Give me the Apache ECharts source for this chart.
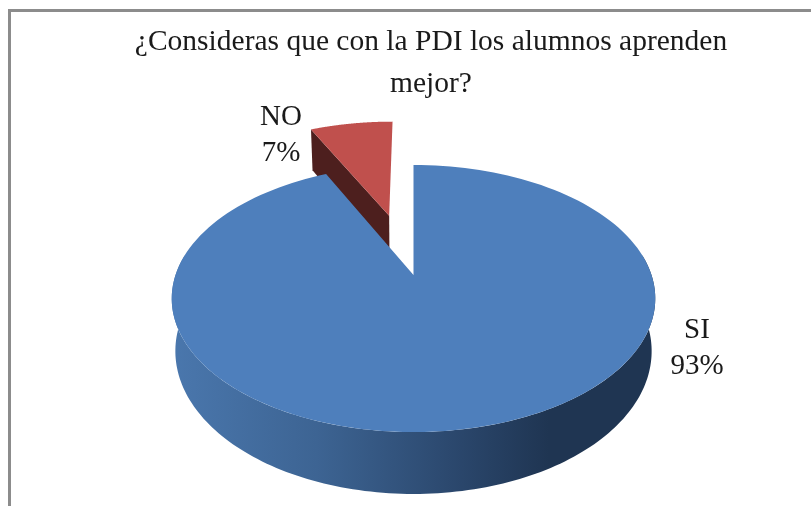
<!DOCTYPE html>
<html><head><meta charset="utf-8">
<style>html,body{margin:0;padding:0;background:#fff}#c{width:811px;height:506px}</style>
<script src="https://cdn.jsdelivr.net/npm/echarts@6/dist/echarts.min.js"></script>
</head><body><div id="c"></div>
<script>
const titleText = '¿Consideras que con la PDI los alumnos aprenden\nmejor?';
const categories = ['NO', 'SI'];
const values = [7, 93];
const explodedCategories = ['NO'];
const topColors = ['#c0504d', '#4e7fbc'];

const total = values.reduce((a, b) => a + b, 0);
// Perspective projection of the pie's unit circle onto the page
const P = {x: 413.5, y: 275, a: -81, c: 0.176, d: 238, depth: 51, shrink: 0.985, explode: 0.51};
function proj(u, v, lower) {
  const w = 1 + P.c * v;
  const x = P.d * u / w, y = (P.a * v + P.y) / w;
  if (lower) return [P.x + x * P.shrink, y + P.depth / w];
  return [P.x + x, y];
}
function arc(t0, t1, ox, oy, lower) {
  const n = 160, pts = [];
  for (let i = 0; i <= n; i++) {
    const t = t0 + (t1 - t0) * i / n;
    pts.push(proj(Math.sin(t) + ox, Math.cos(t) + oy, lower));
  }
  return pts;
}
const chart = echarts.init(document.getElementById('c'), null, {renderer: 'canvas'});
const labelPos = {NO: [281, 135], SI: [697, 348]};

function renderItem(params, api) {
  const i = params.dataIndex;
  let before = 0;
  for (let k = 0; k < i; k++) before += values[k];
  const first = values[0] / total;
  const s = 2 * Math.PI * (before / total - first);
  const e = s + 2 * Math.PI * api.value(0) / total;
  const mid = (s + e) / 2;
  const name = categories[i];
  const ex = explodedCategories.includes(name) ? P.explode : 0;
  const ox = ex * Math.sin(mid), oy = ex * Math.cos(mid);
  const children = [];
  const apexT = proj(ox, oy, false), apexB = proj(ox, oy, true);
  if (ex) {
    const leftT = proj(Math.sin(s) + ox, Math.cos(s) + oy, false);
    const leftB = proj(Math.sin(s) + ox, Math.cos(s) + oy, true);
    children.push({type: 'polygon', shape: {points: [apexT, leftT, leftB, apexB]},
      style: {fill: '#4d1f1e'}});
  } else {
    const a0 = Math.PI * 0.45, a1 = Math.PI * 1.55;
    const up = arc(a0, a1, 0, 0, false), lo = arc(a0, a1, 0, 0, true).reverse();
    children.push({type: 'polygon', shape: {points: up.concat(lo)},
      style: {fill: new echarts.graphic.LinearGradient(0, 0, 1, 0, [
        {offset: 0, color: '#4a77ad'},
        {offset: 0.3, color: '#3d6493'},
        {offset: 0.6, color: '#2a466b'},
        {offset: 0.78, color: '#1f3552'},
        {offset: 1, color: '#1f3552'}])}});
  }
  children.push({type: 'polygon', shape: {points: [apexT].concat(arc(s, e, ox, oy, false))},
    style: {fill: topColors[i]}});
  const lp = labelPos[name];
  children.push({type: 'text', x: lp[0], y: lp[1], style: {
    text: name + '\n' + api.value(0) + '%', align: 'center', verticalAlign: 'middle',
    fontFamily: '"Liberation Serif"', fontSize: 29, lineHeight: 36, fill: '#1a1a1a'}});
  return {type: 'group', children};
}

chart.setOption({
  animation: false,
  backgroundColor: '#ffffff',
  title: {text: titleText, left: 426, top: 16, textAlign: 'center',
    textStyle: {fontFamily: '"Liberation Serif"', fontSize: 29.5, lineHeight: 42, fontWeight: 'normal', color: '#1a1a1a'}},
  graphic: [{type: 'polyline', silent: true, shape: {points: [[9.5, 506], [9.5, 10.5], [811, 10.5]]},
    style: {stroke: '#8c8c8c', lineWidth: 3, fill: null}}],
  series: [{type: 'custom', coordinateSystem: 'none', silent: true, renderItem,
    data: categories.map((c, i) => ({name: c, value: [values[i]]}))}]
});
</script></body></html>
